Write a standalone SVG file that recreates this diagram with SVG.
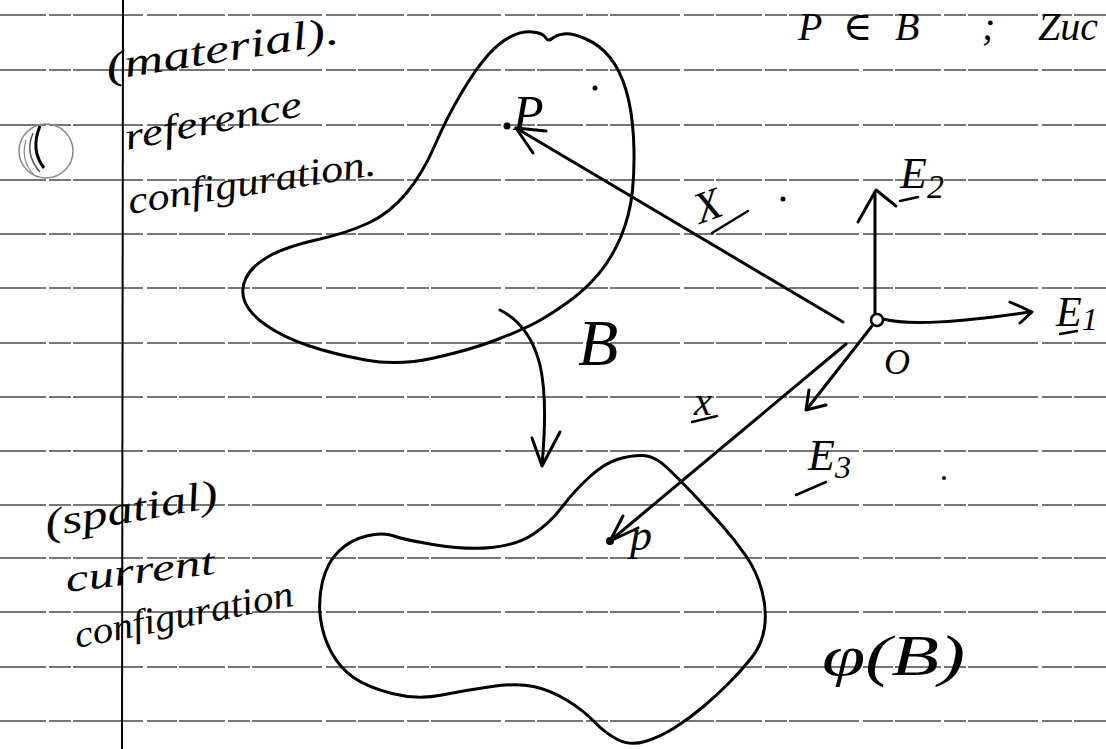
<svg xmlns="http://www.w3.org/2000/svg" width="1106" height="749" viewBox="0 0 1106 749">
<style>
.rule{stroke:#4a4a4a;stroke-width:1.3;stroke-dasharray:46 3 22 2 70 4 30 2;fill:none}
.ink{stroke:#000;stroke-width:3;fill:none;stroke-linecap:round;stroke-linejoin:round}
.thin{stroke:#000;stroke-width:2.5;fill:none;stroke-linecap:round;stroke-linejoin:round}
.hw{font-family:"Liberation Serif","DejaVu Serif",serif;font-style:italic;fill:#000}
</style>
<rect width="1106" height="749" fill="#fff"/>
<g id="paper">
<line class="rule" x1="0" y1="15" x2="1106" y2="15"/>
<line class="rule" x1="0" y1="70" x2="1106" y2="70"/>
<line class="rule" x1="0" y1="125" x2="1106" y2="125"/>
<line class="rule" x1="0" y1="180" x2="1106" y2="180"/>
<line class="rule" x1="0" y1="234" x2="1106" y2="234"/>
<line class="rule" x1="0" y1="288" x2="1106" y2="288"/>
<line class="rule" x1="0" y1="343" x2="1106" y2="343"/>
<line class="rule" x1="0" y1="397" x2="1106" y2="397"/>
<line class="rule" x1="0" y1="451" x2="1106" y2="451"/>
<line class="rule" x1="0" y1="505" x2="1106" y2="505"/>
<line class="rule" x1="0" y1="558" x2="1106" y2="558"/>
<line class="rule" x1="0" y1="612" x2="1106" y2="612"/>
<line class="rule" x1="0" y1="667" x2="1106" y2="667"/>
<line class="rule" x1="0" y1="721" x2="1106" y2="721"/>
<line x1="123" y1="0" x2="122" y2="749" stroke="#000" stroke-width="2"/>
<circle cx="46" cy="151" r="27" fill="none" stroke="#888" stroke-width="1.5"/>
<path d="M40 126 Q30 150 44 168" stroke="#000" stroke-width="3" fill="none"/>
<path d="M33 133 Q24 154 40 172" stroke="#555" stroke-width="1.5" fill="none"/>
<path d="M26 140 Q20 160 34 175" stroke="#888" stroke-width="1.2" fill="none"/>
<circle cx="595" cy="88" r="2.5" fill="#000"/>
<circle cx="783" cy="199" r="2.5" fill="#000"/>
<circle cx="944" cy="478" r="2" fill="#000"/>
</g>
<g id="notes">
<text class="hw" x="108" y="80" font-size="40" textLength="235" lengthAdjust="spacingAndGlyphs" transform="rotate(-9 108 80)">(material).</text>
<text class="hw" x="127" y="150" font-size="38" textLength="180" lengthAdjust="spacingAndGlyphs" transform="rotate(-11 127 150)">reference</text>
<text class="hw" x="130" y="214" font-size="38" textLength="250" lengthAdjust="spacingAndGlyphs" transform="rotate(-9 130 214)">configuration.</text>
<text class="hw" x="47" y="537" font-size="40" textLength="175" lengthAdjust="spacingAndGlyphs" transform="rotate(-10 47 537)">(spatial)</text>
<text class="hw" x="67" y="592" font-size="38" textLength="150" lengthAdjust="spacingAndGlyphs" transform="rotate(-7 67 592)">current</text>
<text class="hw" x="77" y="648" font-size="38" textLength="222" lengthAdjust="spacingAndGlyphs" transform="rotate(-11 77 648)">configuration</text>
<text class="hw" y="40" font-size="40"><tspan x="798">P</tspan><tspan x="843">∈</tspan><tspan x="895">B</tspan><tspan x="982">;</tspan><tspan x="1038">Zuc</tspan></text>
</g>
<g id="reference-body">
<path class="ink" d="M488.5 54.5 Q500 42 511 36.5 Q522 31 532.5 32 Q543 33 545.5 37.5 Q548 42 552 38.5 Q556 35 564 34 Q572 33 586 39 Q600 45 610 57.5 Q620 70 626 90 Q632 110 633.5 137.5 Q635 165 632.5 190 Q630 215 621 236.5 Q612 258 598.5 274 Q585 290 567.5 302.5 Q550 315 536 322.5 Q522 330 496 340 Q470 350 434 358 Q398 366 365.5 360 Q333 354 308 345.5 Q283 337 266.5 325.5 Q250 314 245 302 Q240 290 246 278 Q252 266 268.5 256.5 Q285 247 316 240 Q347 233 368.5 223 Q390 213 406.5 193 Q423 173 435 145 Q447 117 462 92 Q477 67 488.5 54.5 Z"/>
<circle cx="507" cy="126" r="3.5" fill="#000"/>
<text class="hw" x="513" y="130" font-size="50">P</text>
<text class="hw" x="578" y="365" font-size="66">B</text>
</g>
<g id="current-body">
<path class="ink" d="M394 536 Q405 540 436 545 Q467 550 492 547.5 Q517 545 533.5 534 Q550 523 562.5 506.5 Q575 490 590 476.5 Q605 463 618.5 459 Q632 455 643.5 455.5 Q655 456 668.5 469 Q682 482 696 497 Q710 512 722.5 526 Q735 540 746 556 Q757 572 762 591 Q767 610 764.5 627.5 Q762 645 751 658.5 Q740 672 728.5 683.5 Q717 695 703.5 706.5 Q690 718 675 727.5 Q660 737 645 741.5 Q630 746 617.5 739.5 Q605 733 594 721.5 Q583 710 566.5 700 Q550 690 533.5 686.5 Q517 683 492 686.5 Q467 690 442 695 Q417 700 392 693.5 Q367 687 353.5 677.5 Q340 668 331.5 652.5 Q323 637 320.5 618.5 Q318 600 322.5 581.5 Q327 563 338.5 551.5 Q350 540 366.5 536 Q383 532 394 536 Z"/>
<circle cx="610" cy="541" r="4" fill="#000"/>
<text class="hw" x="630" y="550" font-size="44">p</text>
<text class="hw" x="822" y="675" font-size="56" textLength="143" lengthAdjust="spacingAndGlyphs">φ(B)</text>
</g>
<g id="origin-frame">
<line class="ink" x1="875" y1="314" x2="875" y2="194"/>
<polyline class="ink" points="858,222 876,190 896,206"/>
<path class="ink" d="M883 319 C910 326 960 322 1030 312"/>
<polyline class="ink" points="1010,302 1032,312 1020,323"/>
<line class="ink" x1="872" y1="326" x2="807" y2="409"/>
<polyline class="ink" points="809,390 806,410 826,405"/>
<circle cx="877" cy="320" r="6" fill="#fff" stroke="#000" stroke-width="2.5"/>
<text class="hw" x="884" y="374" font-size="36">O</text>
<text class="hw" x="900" y="188" font-size="44">E<tspan font-size="34" dy="10">2</tspan></text>
<line class="thin" x1="900" y1="201" x2="918" y2="197"/>
<text class="hw" x="1056" y="326" font-size="42">E<tspan font-size="32" dy="4">1</tspan></text>
<line class="thin" x1="1060" y1="334" x2="1077" y2="331"/>
<text class="hw" x="808" y="470" font-size="44">E<tspan font-size="32" dy="8">3</tspan></text>
<line class="thin" x1="796" y1="495" x2="826" y2="482"/>
</g>
<g id="connectors">
<line class="ink" x1="843" y1="322" x2="516" y2="128"/>
<polyline class="ink" points="533,153 516,128 546,131"/>
<text class="hw" x="700" y="224" font-size="44" transform="rotate(-20 700 224)">X</text>
<line class="thin" x1="712" y1="233" x2="748" y2="211"/>
<line class="ink" x1="846" y1="344" x2="610" y2="541"/>
<polyline class="ink" points="623,516 610,541 638,528"/>
<text class="hw" x="694" y="415" font-size="40">x</text>
<line class="thin" x1="692" y1="422" x2="717" y2="416"/>
<path class="ink" d="M500 310 Q530 325 540 365 Q548 400 542 465"/>
<polyline class="ink" points="532,438 542,466 560,432"/>
</g>
</svg>
